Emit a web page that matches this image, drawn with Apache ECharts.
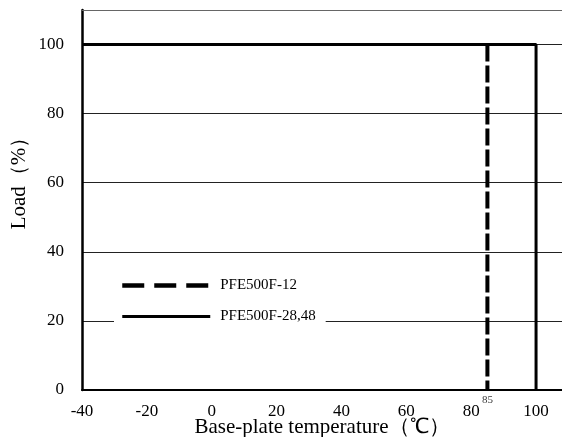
<!DOCTYPE html>
<html>
<head>
<meta charset="utf-8">
<script src="https://cdn.jsdelivr.net/npm/echarts@6/dist/echarts.min.js"></script>
<style>
html,body{margin:0;padding:0;background:#fff;}
#main{width:562px;height:437px;}
</style>
</head>
<body>
<div id="main"></div>
<script>
// derating curves, [temperature, load%]
var seriesNames = ['PFE500F-12', 'PFE500F-28,48'];
var curve12 = [[85, 100], [85, 0]];
var curve2848 = [[-40, 100], [100, 100], [100, 0]];
var markTemp = [[85, 0]];

var serif = 'Liberation Serif';
var chart = echarts.init(document.getElementById('main'));

option = {
    animation: false,
    color: ['#000', '#000', '#000'],
    grid: {left: 82, right: 0, top: 10, bottom: 47, containLabel: false, outerBoundsMode: 'none'},
    legend: {
        data: [
            {name: seriesNames[0], lineStyle: {type: [22, 10], width: 4.5}},
            {name: seriesNames[1], lineStyle: {width: 3}}
        ],
        orient: 'vertical',
        left: 114,
        top: 275,
        itemWidth: 88,
        itemHeight: 14,
        itemGap: 16,
        padding: [3, 10, 3, 6],
        backgroundColor: '#fff',
        itemStyle: {opacity: 0},
        textStyle: {fontFamily: serif, fontSize: 15, color: '#000', padding: [0, 0, 0, 5]}
    },
    xAxis: [{
        type: 'value',
        min: -40, max: 108, interval: 20,
        name: 'Base-plate temperature（℃）',
        nameLocation: 'middle',
        nameGap: 27,
        nameMoveOverlap: false,
        nameTextStyle: {fontFamily: serif, fontSize: 21, color: '#000'},
        axisLine: {lineStyle: {color: '#000', width: 2}},
        axisTick: {show: false},
        splitLine: {show: false},
        axisLabel: {fontFamily: serif, fontSize: 17, color: '#000', margin: 13,
            formatter: function (v) { return v > 100 ? '' : v; }}
    }, {
        type: 'value', position: 'top',
        min: -40, max: 108,
        axisLine: {show: true, lineStyle: {color: '#666', width: 1}},
        axisTick: {show: false}, axisLabel: {show: false}, splitLine: {show: false}
    }],
    yAxis: {
        type: 'value',
        min: 0, max: 110, interval: 20,
        name: 'Load（%）',
        nameLocation: 'middle',
        nameGap: 52,
        nameMoveOverlap: false,
        nameTextStyle: {fontFamily: serif, fontSize: 21, color: '#000', padding: [0, 0, 0, 44]},
        axisLine: {show: true, onZero: false, lineStyle: {color: '#000', width: 2.5}},
        axisTick: {show: false},
        splitLine: {lineStyle: {color: '#222', width: 1}},
        axisLabel: {fontFamily: serif, fontSize: 17, color: '#000', margin: 18,
            formatter: function (v) { return v > 100 ? '' : v; }}
    },
    series: [{
        name: seriesNames[0],
        type: 'line',
        data: curve12,
        symbol: 'none',
        z: 4,
        lineStyle: {color: '#000', width: 4, type: [17, 4]}
    }, {
        name: seriesNames[1],
        type: 'line',
        data: curve2848,
        symbol: 'none',
        z: 3,
        lineStyle: {color: '#000', width: 3}
    }, {
        type: 'scatter',
        data: markTemp,
        symbolSize: 0,
        label: {show: true, position: 'bottom', distance: 5,
            fontFamily: serif, fontSize: 11, color: '#000',
            formatter: function (p) { return p.value[0]; }}
    }]
};
chart.setOption(option);
</script>
</body>
</html>
